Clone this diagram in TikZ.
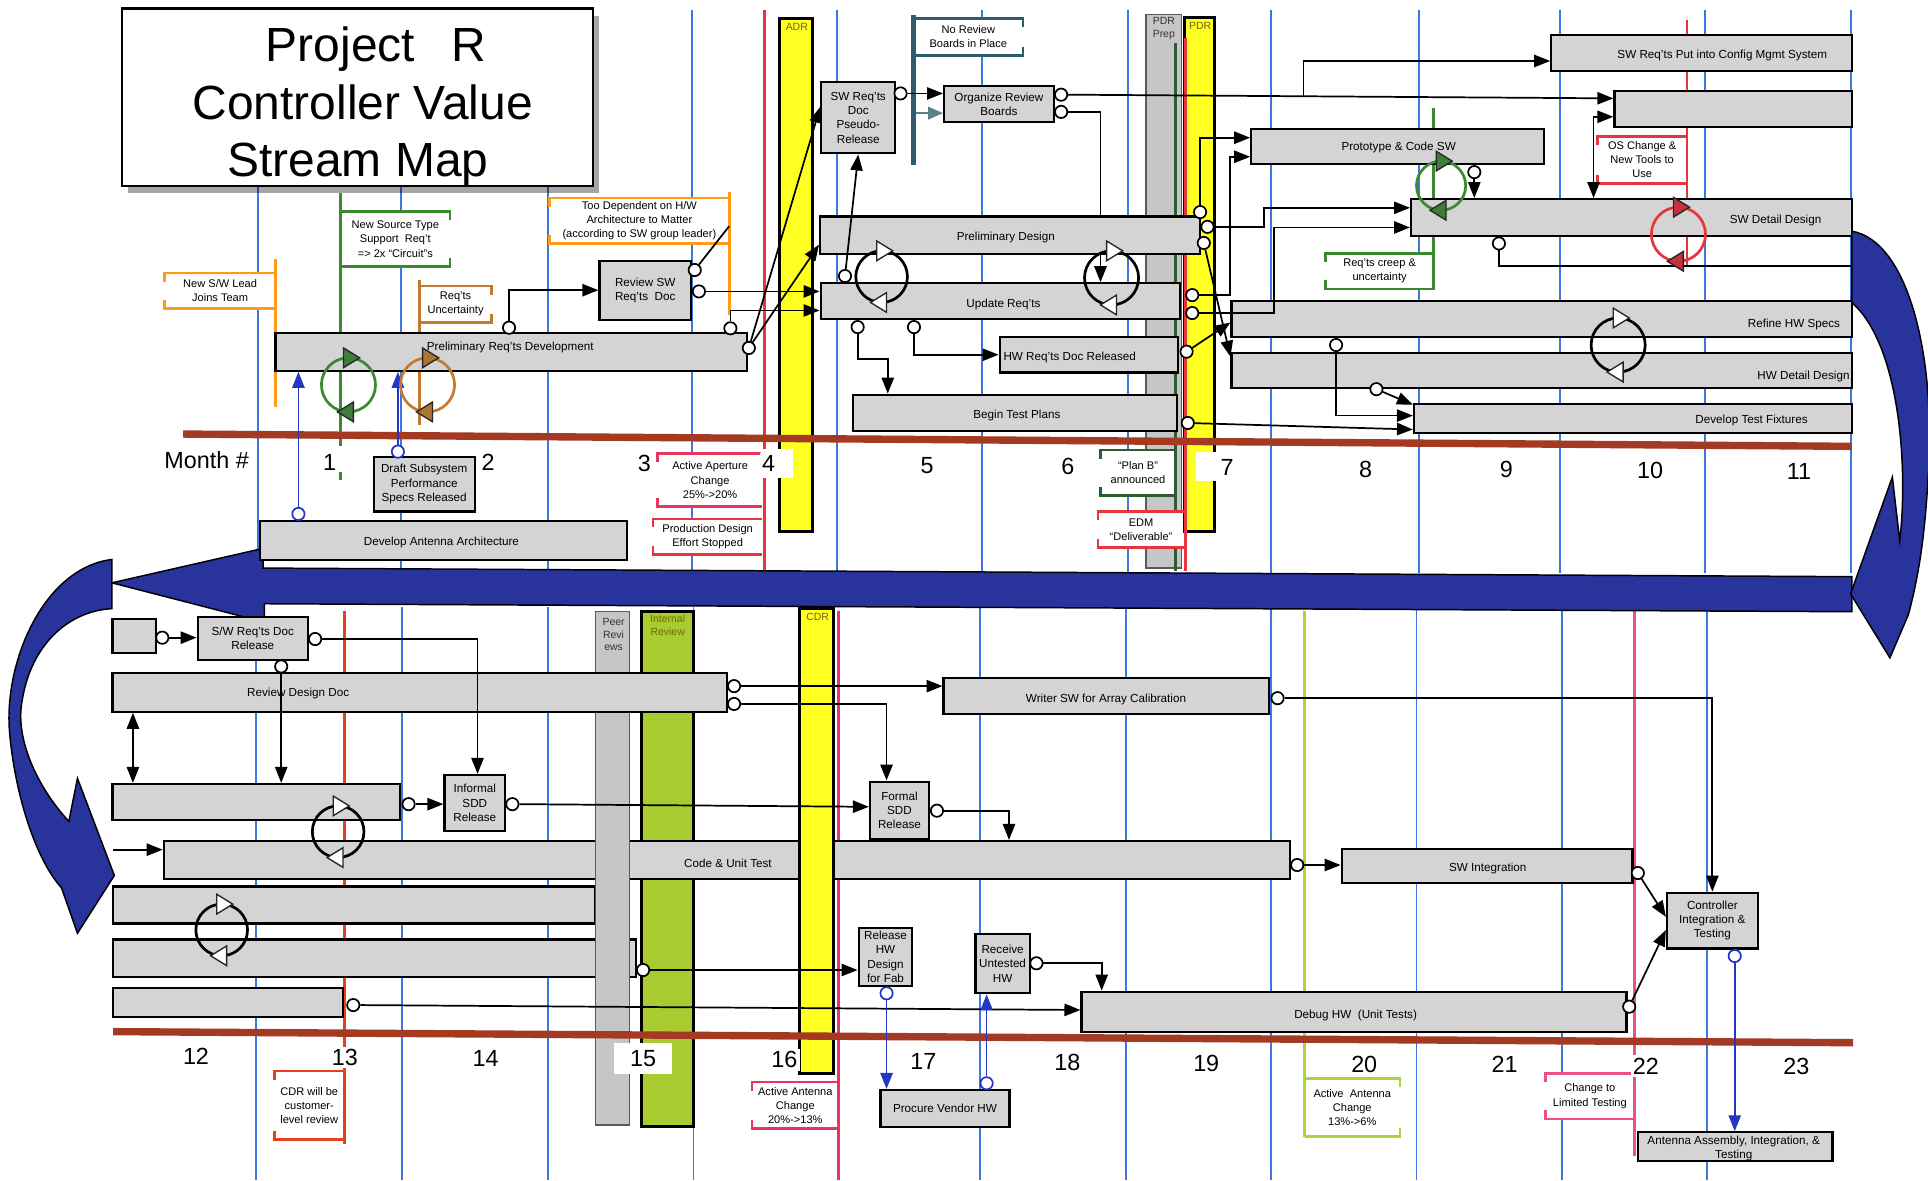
\documentclass[tikz,border=0pt]{standalone}
\usepackage{fontspec}
\setmainfont{Liberation Sans}
\usetikzlibrary{arrows.meta,shadows}
\pgfdeclarelayer{bg}
\pgfdeclarelayer{behind}
\pgfdeclarelayer{front}
\pgfsetlayers{bg,behind,main,front}
\definecolor{boxgray}{HTML}{D4D4D4}
\definecolor{gridblue}{HTML}{3A78E0}
\definecolor{navyarr}{HTML}{28339C}
\definecolor{rulered}{HTML}{A53A22}
\definecolor{msyellow}{HTML}{FFFF22}
\definecolor{irgreen}{HTML}{A8CC30}
\definecolor{prepgray}{HTML}{C6C6C6}
\definecolor{arrblue}{HTML}{2436C4}
\definecolor{corange}{HTML}{FF9A1A}
\definecolor{cbrown}{HTML}{C47A2E}
\definecolor{cgreen}{HTML}{3C8A30}
\definecolor{cdkgreen}{HTML}{2E5A34}
\definecolor{cteal}{HTML}{2E5C6A}
\definecolor{cred}{HTML}{E8343C}
\definecolor{cpink}{HTML}{E8345E}
\definecolor{corred}{HTML}{E8401E}
\definecolor{cyg}{HTML}{A8D634}
\definecolor{cpinkb}{HTML}{F04E8A}
\definecolor{olivetxt}{HTML}{6E6610}
\definecolor{tealarr}{HTML}{5A808C}
\definecolor{gtri}{HTML}{3E7E3A}
\definecolor{btri}{HTML}{B07434}
\definecolor{rtri}{HTML}{C8303C}
\newcommand\mkbox[7][]{%
  \pgfmathsetmacro\mkbw{#4-#2}\pgfmathsetmacro\mkbh{#5-#3}%
  \pgfmathsetmacro\mkbx{(#2+#4)/2}\pgfmathsetmacro\mkby{(#3+#5)/2}%
  \node[gbox,minimum width=\mkbw pt,minimum height=\mkbh pt,#1] (#6) at (\mkbx,\mkby) {#7};}
\newcommand\mkcall[7]{%
  \pgfmathsetmacro\mkcx{#3+1.6*sign(#4-#3)}%
  \fill[white] (\mkcx,#5) rectangle (#4,#6);
  \draw[#2,line width=2.2pt] (#3,#5) -- (#4,#5) -- (#4,{#5+7});
  \draw[#2,line width=2.2pt] (#3,#6) -- (#4,#6) -- (#4,{#6-7});
  \node[ctxt] (#1) at ({(#3+#4)/2},{(#5+#6)/2}) {#7};}
\newcommand\mkcyc[5]{%
  \draw[#4,line width=2.2pt] (#1,#2) circle[radius=#3 pt];
  \draw[black!85,line width=1.1pt,fill=#5] ({#1-4},{#2-#3-8}) -- ({#1+9},{#2-#3}) -- ({#1-4},{#2-#3+8}) -- cycle;
  \draw[black!85,line width=1.1pt,fill=#5] ({#1+4},{#2+#3-8}) -- ({#1-9},{#2+#3}) -- ({#1+4},{#2+#3+8}) -- cycle;}
\begin{document}
\begin{tikzpicture}[x=1pt,y=-1pt,
  gbox/.style={draw=black,line width=1.8pt,fill=boxgray,inner sep=1pt,align=center,font=\fontsize{9.5}{11.5}\selectfont},
  btxt/.style={font=\fontsize{9.5}{11.5}\selectfont,inner sep=0pt},
  ctxt/.style={font=\fontsize{9}{11.5}\selectfont,align=center,inner sep=0pt},
  port/.style={circle,draw=black,fill=white,line width=1.4pt,minimum size=10pt,inner sep=0pt},
  bport/.style={port,draw=arrblue},
  conn/.style={draw=black,line width=1.4pt},
  arr/.style={conn,-{Triangle[length=13pt,width=10pt]}},
  dblarr/.style={conn,{Triangle[length=13pt,width=10pt]}-{Triangle[length=13pt,width=10pt]}},
  barr/.style={draw=arrblue,line width=1.4pt,-{Triangle[length=13pt,width=10pt]}},
  gridl/.style={draw=gridblue,line width=1.6pt},
  month/.style={font=\fontsize{19}{22}\selectfont,fill=white,inner sep=2pt},
  mslabel/.style={font=\fontsize{8.5}{10.5}\selectfont,align=center,inner sep=0pt,text=olivetxt},
  msbar/.style={draw=black,line width=2.4pt,fill=msyellow},
  ttl/.style={font=\fontsize{39}{46}\selectfont,inner sep=0pt,anchor=base}
]
\useasboundingbox (0,0) rectangle (1568,960);
\begin{pgfonlayer}{bg}
\fill[white] (0,0) rectangle (1568,960);
\foreach \x in {210,326,446,563,681,799,917,1034,1154,1269,1387,1505} \draw[gridl] (\x,8) -- (\x,466);
\foreach \x in {208,327,446,564,797,916,1034,1152,1270,1388} \draw[gridl] (\x,494) -- (\x,960);
\draw[cred,line width=2.2pt] (622,8) -- (622,464);
\draw[cred,line width=2.2pt] (1372,16) -- (1372,217);
\draw[corange,line width=2.4pt] (224,211) -- (224,331);
\draw[cgreen,line width=2.4pt] (277,157) -- (277,363) (277,384) -- (277,390);
\draw[cbrown,line width=2.4pt] (341,228) -- (341,346);
\draw[corange,line width=2.4pt] (593,156) -- (593,256);
\draw[cteal,line width=4pt] (743,12) -- (743,134);
\draw[cgreen,line width=2.4pt] (1166,88) -- (1166,236);
\draw[corred,line width=2.2pt] (280,497) -- (280,930);
\draw[cpink,line width=2.2pt] (682,497) -- (682,960);
\draw[cyg,line width=2.2pt] (1061,497) -- (1061,925);
\draw[cpinkb,line width=2.2pt] (1329,497) -- (1329,940);
\end{pgfonlayer}
% milestone bars, top
\mkbox[msbar]{634}{15}{661}{432.6}{adr}{}
\mkbox[fill=prepgray,draw=gray!70!black,line width=1pt]{932}{12}{961}{462}{pdrp}{}
\mkbox[msbar]{963}{14}{988}{432.6}{pdr}{}
\node[mslabel] (adrl) at (648,22) {ADR};
\node[mslabel,text=gray!40!black] (pdrpl) at (946.5,23.5) {PDR\\Prep};
\node[mslabel] (pdrl) at (976,21) {PDR};
\draw[cdkgreen,line width=2.4pt] (956,35) -- (956,464);
\draw[cred,line width=2.2pt] (964,31) -- (964,464);
\draw[rulered,line width=6pt] (149,353) -- (1506,363);
% bottom bars
\mkbox[fill=irgreen,line width=2.4pt]{522}{497}{564}{916}{irev}{}
\mkbox{92}{721}{484}{751}{bara}{}
\mkbox{92}{764}{517}{794.3}{barb}{}
\mkbox{92}{803.8}{279}{827.4}{barc}{}
\mkbox{133.2}{684}{1049}{715}{cut}{}
\mkbox[fill=prepgray,draw=gray!70!black,line width=1pt]{484}{497.6}{512}{915}{peer}{}
\mkbox[msbar]{650}{495}{678}{873}{cdr}{}
\mkbox{91.5}{547.6}{591.4}{578.8}{rdd}{}
\node[mslabel,text=gray!40!black] (peerl) at (499,516) {Peer\\Revi\\ews};
\node[mslabel] (irevl) at (543,508.5) {Internal\\Review};
\node[mslabel] (cdrl) at (665,502) {CDR};
\draw[rulered,line width=6pt] (92,839) -- (1507,848);
% big return arrow
\fill[navyarr,draw=black,line width=1.2pt] (1506,469) -- (214,462) -- (214,446) -- (91,474) -- (215,506) -- (215,491) -- (1506,497.5) -- cycle;
\fill[navyarr,draw=black,line width=1.2pt] (91,455) .. controls (35,462) and (2,540) .. (8,598) .. controls (13,650) and (30,700) .. (50,722) -- (63,759) -- (93,712) -- (63,633) -- (56,668) .. controls (30,640) and (12,600) .. (18,570) .. controls (25,525) and (55,497) .. (91,495) -- cycle;
% top boxes
\mkbox{224}{271}{607.7}{301.5}{prd}{}
\mkbox{487.5}{212}{562}{260}{rsw}{Review SW\\Req'ts\ \ Doc}
\mkbox{668}{67}{728}{124.7}{pseudo}{SW Req'ts\\Doc\\Pseudo-\\Release}
\mkbox{767.8}{70}{857}{99}{orb}{Organize Review\\Boards}
\mkbox{1261.6}{28.5}{1506}{57.5}{cfg}{}
\mkbox{1313}{73.7}{1506}{103}{topbox}{}
\mkbox{1017.6}{105}{1256}{133.4}{proto}{}
\mkbox{667}{176}{975.6}{206.6}{pdes}{}
\mkbox{667.4}{230.4}{959.7}{259.4}{upd}{}
\mkbox{813}{274}{958}{303}{hwr}{}
\mkbox{694}{321}{957}{350.6}{btp}{}
\mkbox{1147.6}{162}{1506}{192}{swd}{}
\mkbox{1001.6}{244.5}{1506}{274}{rhw}{}
\mkbox{1001.6}{287}{1506}{315.7}{hwd}{}
\mkbox{1150}{328.6}{1506}{352}{dtf}{}
\mkbox{211.6}{424}{510}{455.4}{daa}{}
\mkbox{304}{371.4}{386}{416}{dss}{Draft Subsystem\\Performance\\Specs Released}
% bottom boxes
\mkbox{91.5}{503.7}{127}{530.8}{sb}{}
\mkbox{160.8}{501.5}{250.3}{536.8}{swrel}{S/W Req'ts Doc\\Release}
\mkbox{767.4}{551.7}{1032}{580.7}{wsw}{}
\mkbox{91.5}{637.6}{325}{666.9}{gbx}{}
\mkbox{361.5}{630.3}{410.8}{675.6}{isdd}{Informal\\SDD\\Release}
\mkbox{707.5}{635.7}{755.5}{682.6}{fsdd}{Formal\\SDD\\Release}
\mkbox{1091.2}{690.7}{1327.7}{718.4}{swi}{}
\mkbox{1355.7}{726}{1429.5}{771.3}{cit}{Controller\\Integration \&\\Testing}
\mkbox{879.6}{806.5}{1322.8}{839}{dhw}{}
\mkbox{698.3}{754.4}{742}{801.9}{rhd}{Release\\HW\\Design\\for Fab}
\mkbox{793.3}{759.6}{837.5}{807.8}{ruh}{Receive\\Untested\\HW}
\mkbox{716}{886.5}{821}{916.8}{pvh}{Procure Vendor HW}
\mkbox{1331.9}{920.9}{1490.3}{944.2}{aai}{}
% right curved arrow
\fill[navyarr,draw=black,line width=1.2pt] (1506,188) .. controls (1552,196) and (1575,290) .. (1568,390) .. controls (1565,440) and (1560,470) .. (1552,500) -- (1537,535) -- (1505,483) -- (1539,388) -- (1545,440) .. controls (1552,380) and (1545,280) .. (1506,246) -- cycle;
% title
\node[draw=black,line width=1.8pt,fill=white,minimum width=383pt,minimum height=144pt,inner sep=0pt,drop shadow={shadow xshift=5pt,shadow yshift=-6pt,opacity=0.35,fill=black}] (title) at (290.5,79) {};
\node[ttl] (t1) at (306,50) {Project\hspace{30pt}R};
\node[ttl] (t2) at (295,97.5) {Controller Value};
\node[ttl] (t3) at (291,143.5) {Stream Map};
% callouts
\mkcall{cnl}{corange}{224}{134}{222}{251}{New S/W Lead\\Joins Team}
\mkcall{cns}{cgreen}{277}{366}{172}{217}{New Source Type\\Support\ \ Req't\\=> 2x ``Circuit''s}
\mkcall{cru}{cbrown}{341}{400}{232.6}{262}{Req'ts\\Uncertainty}
\mkcall{ctd}{corange}{593}{447}{161}{198}{Too Dependent on H/W\\Architecture to Matter\\(according to SW group leader)}
\mkcall{cnr}{cteal}{743}{832}{15}{45}{No Review\\Boards in Place}
\mkcall{caa}{cpink}{620}{535}{369}{412}{Active Aperture\\Change\\25\%->20\%}
\mkcall{cpd}{cred}{620}{531}{422}{451}{Production Design\\Effort Stopped}
\mkcall{cpb}{cdkgreen}{956}{895}{366}{403}{``Plan B''\\announced}
\mkcall{cedm}{cred}{963}{893}{416}{445}{EDM\\``Deliverable''}
\mkcall{cos}{cred}{1372}{1299}{111}{149}{OS Change \&\\New Tools to\\Use}
\mkcall{ccr}{cgreen}{1166}{1078}{206}{235}{Req'ts creep \&\\uncertainty}
\mkcall{ccdr}{corred}{280}{223}{871}{927}{CDR will be\\customer-\\level review}
\mkcall{caab}{cpink}{682}{611.6}{880}{918}{Active Antenna\\Change\\20\%->13\%}
\mkcall{caac}{cyg}{1061}{1138.5}{877}{924.5}{Active\ \ Antenna\\Change\\13\%->6\%}
\mkcall{clt}{cpinkb}{1329}{1257}{873}{910}{Change to\\Limited Testing}
% month labels
\fill[white] (619,365) rectangle (645,389);
\fill[white] (973,368) rectangle (1008,391);
\node[month] (mh) at (168,374) {Month \#};
\node[month] (m1) at (268,376) {1};
\node[month] (m2) at (397,376) {2};
\node[month] (m3) at (524,377) {3};
\node[month] (m4) at (625,377) {4};
\node[month] (m5) at (754,379) {5};
\node[month] (m6) at (868.5,379.5) {6};
\node[month] (m7) at (998,380.5) {7};
\node[month] (m8) at (1110.7,381.4) {8};
\node[month] (m9) at (1225,382) {9};
\node[month] (m10) at (1342,382.5) {10};
\node[month] (m11) at (1463,383.6) {11};
\node[month] (m12) at (159.4,859.4) {12};
\node[month] (m13) at (280.4,860) {13};
\node[month] (m14) at (395,860.5) {14};
\node[month,minimum width=47pt,minimum height=25pt] (m15) at (523,861) {15};
\node[month] (m16) at (638,862) {16};
\node[month] (m17) at (751,863) {17};
\node[month] (m18) at (868,864.2) {18};
\node[month] (m19) at (981,865) {19};
\node[month] (m20) at (1109.5,865.5) {20};
\node[month] (m21) at (1223.6,866) {21};
\node[month] (m22) at (1338.6,867) {22};
\node[month] (m23) at (1461,867.5) {23};
% ports
\begin{pgfonlayer}{front}
\node[port] (p1) at (414,266.5) {};
\node[port] (p2) at (594,267) {};
\node[port] (p3) at (609,283) {};
\node[port] (r1) at (565,219.6) {};
\node[port] (r2) at (568.4,237) {};
\node[port] (s1) at (732.4,76) {};
\node[port] (o1) at (863,77) {};
\node[port] (o2) at (863,91) {};
\node[port] (u0) at (687.2,224.5) {};
\node[port] (pd1) at (976,172.5) {};
\node[port] (pd2) at (982,184.5) {};
\node[port] (pd3) at (979,197.6) {};
\node[port] (ur1) at (969.6,240) {};
\node[port] (ur2) at (969.6,254.6) {};
\node[port] (ub1) at (697.5,266) {};
\node[port] (ub2) at (743.3,266) {};
\node[port] (hr1) at (965,286) {};
\node[port] (bt1) at (966,344) {};
\node[port] (rh1) at (1086.6,280.6) {};
\node[port] (hd1) at (1119.4,316.5) {};
\node[port] (pc1) at (1199,140) {};
\node[port] (sd1) at (1219,198) {};
\node[bport] (da1) at (242.7,418) {};
\node[bport] (ds1) at (323.6,367.3) {};
\node[port] (sb1) at (132,518.6) {};
\node[port] (sw1) at (256.3,519.7) {};
\node[port] (sw2) at (228.7,542) {};
\node[port] (rd1) at (597,558) {};
\node[port] (rd2) at (597,572.5) {};
\node[port] (gb1) at (332.3,654) {};
\node[port] (is1) at (416.7,654) {};
\node[port] (fs1) at (762,659.3) {};
\node[port] (cu1) at (1055,703.5) {};
\node[port] (si1) at (1332,710) {};
\node[port] (dh1) at (1325,818.7) {};
\node[port] (ws1) at (1039,567.8) {};
\node[bport] (ci1) at (1410.8,777.5) {};
\node[port] (bc1) at (287.3,817.4) {};
\node[port] (bb1) at (523,788.9) {};
\node[bport] (rh2) at (721,807.8) {};
\node[bport] (pv1) at (802.4,881) {};
\node[port] (ru1) at (842.9,783.4) {};
\end{pgfonlayer}
% connector hidden behind Preliminary Design
\begin{pgfonlayer}{behind}
\draw[arr] (o2.east) -| ([xshift=81.45pt]upd.north);
\end{pgfonlayer}
% connectors top
\coordinate (tdtip) at (593,184);
\coordinate (cfgbr) at (1060,78.3);
\coordinate (swdout) at (1506,216.4);
\coordinate (nrl) at (745,92);
\draw[arr] (p1.north) |- (rsw.west);
\draw[arr] (p2.north) |- ([yshift=-7.6pt]upd.west);
\draw[arr] (p3) -- ([yshift=9pt]pseudo.west);
\draw[arr] (p3) -- ([yshift=-7.7pt]pdes.west);
\draw[conn] (r1) -- (tdtip);
\draw[arr] (r2.east) -- (r2.east -| upd.west);
\draw[arr] (s1.east) -- (s1.east -| orb.west);
\draw[arr] (u0) -- (pseudo.south);
\draw[arr] (o1.east) -- ([yshift=8.35pt]topbox.west);
\draw[arr] (cfgbr) |- ([yshift=-6.6pt]cfg.west);
\draw[draw=tealarr,line width=2pt,-{Triangle[length=12pt,width=10pt]}] (nrl) -- ([yshift=-7.5pt]orb.west);
\draw[arr] (pd1.north) |- ([yshift=7.2pt]proto.west);
\draw[arr] (pd2.east) -- ++(40,0) |- ([yshift=8pt]swd.west);
\draw[arr] (pd3) -- ([yshift=-4pt]hwd.north west);
\draw[arr] (ur1.east) -- ++(25,0) |- ([yshift=-8.3pt]proto.west);
\draw[arr] (ur2.east) -- ++(61,0) |- ([yshift=-8pt]swd.west);
\draw[arr] (ub1.south) -- ++(0,20.4) -| ([xshift=-103.5pt]btp.north);
\draw[arr] (ub2.south) |- (hwr.west);
\draw[arr] (hr1) -- ([yshift=-3pt]rhw.west);
\draw[arr] (bt1) -- ([yshift=-9pt]dtf.west);
\draw[arr] (rh1.south) |- ([yshift=2.3pt]dtf.west);
\draw[arr] (hd1) -- ([yshift=-1.5pt]dtf.north west);
\draw[arr] (pc1.south) -- (pc1.south |- swd.north);
\draw[dblarr] ([xshift=-30.8pt]swd.north) |- ([yshift=-6.65pt]topbox.west);
\draw[conn] (sd1.south) |- (swdout);
\draw[barr] (da1.north) -- (da1.north |- prd.south);
\draw[barr] (ds1.north) -- (ds1.north |- prd.south);
% connectors bottom
\coordinate (cutin) at (92,691);
\draw[arr] (sb1.east) -- (sb1.east -| swrel.west);
\draw[arr] (sw1.east) -| ([xshift=2.2pt]isdd.north);
\draw[arr] (sw2.south) -- (sw2.south |- gbx.north);
\draw[arr] (rd1.east) -- (rd1.east -| wsw.west);
\draw[arr] (rd2.east) -| ([xshift=-10.5pt]fsdd.north);
\draw[dblarr] ([xshift=17.5pt]rdd.south west) -- ([xshift=17.5pt]gbx.north west);
\draw[arr] (gb1.east) -- (gb1.east -| isdd.west);
\draw[arr] (is1.east) -- ([yshift=3pt]fsdd.west);
\draw[arr] (fs1.east) -| ([xshift=229.5pt]cut.north);
\draw[arr] (cutin) -- (cutin -| cut.west);
\draw[arr] (cu1.east) -- (cu1.east -| swi.west);
\draw[arr] (si1) -- ([yshift=3pt]cit.west);
\draw[arr] (dh1) -- ([yshift=-7.75pt]cit.west);
\draw[arr] (ws1.east) -| (cit.north);
\draw[barr] (ci1.south) -- (ci1.south |- aai.north);
\draw[arr] (bc1.east) -- ([yshift=1.35pt]dhw.west);
\draw[arr] (bb1.east) -- (bb1.east -| rhd.west);
\draw[barr] (rh2.south) -- (rh2.south |- pvh.north);
\draw[barr] (pv1.north) -- (pv1.north |- ruh.south);
\draw[arr] (ru1.east) -| ([xshift=-205.2pt]dhw.north);
% cycles and labels
\begin{pgfonlayer}{front}
\mkcyc{283.4}{313}{22}{cgreen}{gtri}
\mkcyc{347.7}{313}{22}{cbrown}{btri}
\mkcyc{717}{225}{21}{black}{white}
\mkcyc{904}{226}{22}{black}{white}
\mkcyc{1172}{151}{20}{cgreen}{gtri}
\mkcyc{1365}{190.5}{22}{cred}{rtri}
\mkcyc{1316}{280.6}{22}{black}{white}
\mkcyc{275}{676.4}{21}{black}{white}
\mkcyc{180.3}{756.3}{21}{black}{white}
\node[btxt] (prdt) at (415,283) {Preliminary Req'ts Development};
\node[btxt] (daat) at (359,441) {Develop Antenna Architecture};
\node[btxt] (pdest) at (818,193) {Preliminary Design};
\node[btxt] (updt) at (816,248) {Update Req'ts};
\node[btxt] (hwrt) at (870,291) {HW Req'ts Doc Released};
\node[btxt] (btpt) at (827,337.5) {Begin Test Plans};
\node[btxt] (protot) at (1137.5,120) {Prototype \& Code SW};
\node[btxt] (cfgt) at (1400.7,45.5) {SW Req'ts Put into Config Mgmt System};
\node[btxt] (swdt) at (1444,179) {SW Detail Design};
\node[btxt] (rhwt) at (1459,263.5) {Refine HW Specs};
\node[btxt] (hwdt) at (1466.7,306) {HW Detail Design};
\node[btxt] (dtft) at (1424.5,341.6) {Develop Test Fixtures};
\node[btxt] (rddt) at (242.5,564) {Review Design Doc};
\node[btxt] (wswt) at (899.5,568.7) {Writer SW for Array Calibration};
\node[btxt] (cutt) at (592,702) {Code \& Unit Test};
\node[btxt] (swit) at (1210,706) {SW Integration};
\node[btxt] (dhwt) at (1102.5,825.5) {Debug HW\ \ (Unit Tests)};
\node[btxt,align=center,font=\fontsize{9.5}{10.8}\selectfont] (aait) at (1410,934) {Antenna Assembly, Integration, \&\\Testing};
\end{pgfonlayer}
\end{tikzpicture}
\end{document}
